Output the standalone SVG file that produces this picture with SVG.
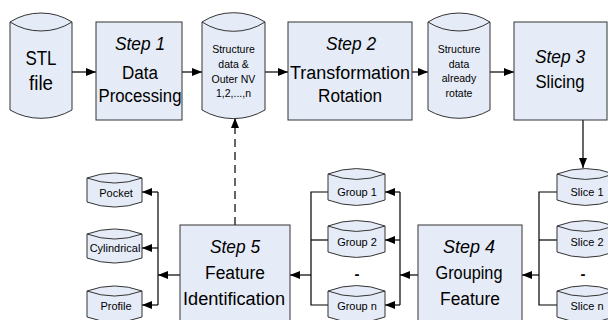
<svg xmlns="http://www.w3.org/2000/svg" width="608" height="320" viewBox="0 0 608 320">
<defs>
<style>
.shape{fill:#e6ecf7;stroke:#333;stroke-width:1}
.inner{fill:none;stroke:#333;stroke-width:1}
.c{stroke:#000;stroke-width:1.2;fill:none}
.a{marker-end:url(#ah)}
.dash{stroke-dasharray:8 5}
text{font-family:"Liberation Sans",Arial,sans-serif;fill:#000;text-anchor:middle}
.big{font-size:18px}
.it{font-style:italic}
.sm{font-size:10.5px}
.lb{font-size:11px}
</style>
<marker id="ah" viewBox="0 0 10 8" refX="10" refY="4" markerWidth="10" markerHeight="8" markerUnits="userSpaceOnUse" orient="auto">
<path d="M0,0 L10,4 L0,8 Z" fill="#000"/>
</marker>
</defs>

<g id="connectors">
<line class="c a" x1="72" y1="72" x2="96" y2="72"/>
<line class="c a" x1="182" y1="72" x2="202" y2="72"/>
<line class="c a" x1="265" y1="72" x2="288" y2="72"/>
<line class="c a" x1="412" y1="72" x2="428" y2="72"/>
<line class="c a" x1="490" y1="72" x2="514" y2="72"/>
<line class="c a" x1="583" y1="120" x2="583" y2="168"/>
<polyline class="c" points="557,192 539,192 539,305 557,305"/>
<line class="c" x1="539" y1="240" x2="557" y2="240"/>
<line class="c a" x1="539" y1="275" x2="522" y2="275"/>
<line class="c" x1="400" y1="192" x2="400" y2="305"/>
<line class="c a" x1="400" y1="192" x2="385" y2="192"/>
<line class="c a" x1="400" y1="240" x2="385" y2="240"/>
<line class="c a" x1="400" y1="305" x2="385" y2="305"/>
<line class="c a" x1="418" y1="275" x2="400" y2="275"/>
<polyline class="c" points="328,192 311,192 311,305 328,305"/>
<line class="c" x1="311" y1="240" x2="328" y2="240"/>
<line class="c a" x1="311" y1="275" x2="290" y2="275"/>
<line class="c" x1="158" y1="192" x2="158" y2="305"/>
<line class="c a" x1="158" y1="192" x2="142" y2="192"/>
<line class="c a" x1="158" y1="248" x2="142" y2="248"/>
<line class="c a" x1="158" y1="305" x2="142" y2="305"/>
<line class="c a" x1="180" y1="275" x2="158" y2="275"/>
<line class="c a dash" x1="235" y1="225" x2="235" y2="118"/>
</g>

<g id="stl">
<path class="shape" d="M10,22 A58,58 0 0 1 72,22 L72,110 A62,62 0 0 1 10,110 Z"/>
<path class="inner" d="M10,22 A58,58 0 0 0 72,22"/>
<text x="41" y="65" style="font-size:20px" textLength="31" lengthAdjust="spacingAndGlyphs">STL</text>
<text x="41" y="90" style="font-size:20px" textLength="24" lengthAdjust="spacingAndGlyphs">file</text>
</g>

<g id="step1">
<rect class="shape" x="96" y="22" width="86" height="98"/>
<text class="big it" x="140" y="50" textLength="50" lengthAdjust="spacingAndGlyphs">Step 1</text>
<text class="big" x="140" y="79" textLength="36" lengthAdjust="spacingAndGlyphs">Data</text>
<text class="big" x="140" y="102" textLength="83" lengthAdjust="spacingAndGlyphs">Processing</text>
</g>

<g id="structure">
<path class="shape" d="M202,22 A58,58 0 0 1 265,22 L265,110 A62,62 0 0 1 202,110 Z"/>
<path class="inner" d="M202,22 A58,58 0 0 0 265,22"/>
<text class="sm" x="233.5" y="53">Structure</text>
<text class="sm" x="233.5" y="68">data &amp;</text>
<text class="sm" x="233.5" y="83">Outer NV</text>
<text class="sm" x="233.5" y="97">1,2,...,n</text>
</g>

<g id="step2">
<rect class="shape" x="288" y="22" width="124" height="98"/>
<text class="big it" x="351" y="50" textLength="50" lengthAdjust="spacingAndGlyphs">Step 2</text>
<text class="big" x="350" y="79" textLength="120" lengthAdjust="spacingAndGlyphs">Transformation</text>
<text class="big" x="350" y="102" textLength="64" lengthAdjust="spacingAndGlyphs">Rotation</text>
</g>

<g id="rotated">
<path class="shape" d="M428,22 A58,58 0 0 1 490,22 L490,110 A62,62 0 0 1 428,110 Z"/>
<path class="inner" d="M428,22 A58,58 0 0 0 490,22"/>
<text class="sm" x="459" y="53">Structure</text>
<text class="sm" x="459" y="68">data</text>
<text class="sm" x="459" y="82">already</text>
<text class="sm" x="459" y="97">rotate</text>
</g>

<g id="step3">
<rect class="shape" x="514" y="22" width="93" height="98"/>
<text class="big it" x="560" y="63" textLength="50" lengthAdjust="spacingAndGlyphs">Step 3</text>
<text class="big" x="560" y="88" textLength="49" lengthAdjust="spacingAndGlyphs">Slicing</text>
</g>

<g id="slice1">
<path class="shape" d="M557,174 A80,80 0 0 1 614,174 L614,200 A80,80 0 0 1 557,200 Z"/>
<path class="inner" d="M557,174 A80,80 0 0 0 614,174"/>
<text class="lb" x="587" y="196">Slice 1</text>
</g>
<g id="slice2">
<path class="shape" d="M557,226 A80,80 0 0 1 614,226 L614,252 A80,80 0 0 1 557,252 Z"/>
<path class="inner" d="M557,226 A80,80 0 0 0 614,226"/>
<text class="lb" x="587" y="246">Slice 2</text>
</g>
<text x="583" y="279" style="font-size:15px;font-weight:bold">-</text>
<g id="slicen">
<path class="shape" d="M557,291 A80,80 0 0 1 614,291 L614,317 A80,80 0 0 1 557,317 Z"/>
<path class="inner" d="M557,291 A80,80 0 0 0 614,291"/>
<text class="lb" x="587" y="310">Slice n</text>
</g>

<g id="step4">
<rect class="shape" x="418" y="225" width="104" height="98"/>
<text class="big it" x="469" y="253" textLength="52" lengthAdjust="spacingAndGlyphs">Step 4</text>
<text class="big" x="469" y="279" textLength="67" lengthAdjust="spacingAndGlyphs">Grouping</text>
<text class="big" x="470" y="305" textLength="60" lengthAdjust="spacingAndGlyphs">Feature</text>
</g>

<g id="group1">
<path class="shape" d="M328,174 A80,80 0 0 1 385,174 L385,200 A80,80 0 0 1 328,200 Z"/>
<path class="inner" d="M328,174 A80,80 0 0 0 385,174"/>
<text class="lb" x="357" y="196">Group 1</text>
</g>
<g id="group2">
<path class="shape" d="M328,226 A80,80 0 0 1 385,226 L385,252 A80,80 0 0 1 328,252 Z"/>
<path class="inner" d="M328,226 A80,80 0 0 0 385,226"/>
<text class="lb" x="357" y="246">Group 2</text>
</g>
<text x="357" y="279" style="font-size:15px;font-weight:bold">-</text>
<g id="groupn">
<path class="shape" d="M328,291 A80,80 0 0 1 385,291 L385,317 A80,80 0 0 1 328,317 Z"/>
<path class="inner" d="M328,291 A80,80 0 0 0 385,291"/>
<text class="lb" x="357" y="310">Group n</text>
</g>

<g id="step5">
<rect class="shape" x="180" y="225" width="110" height="98"/>
<text class="big it" x="235" y="253" textLength="50" lengthAdjust="spacingAndGlyphs">Step 5</text>
<text class="big" x="235" y="279" textLength="60" lengthAdjust="spacingAndGlyphs">Feature</text>
<text class="big" x="234" y="305" textLength="102" lengthAdjust="spacingAndGlyphs">Identification</text>
</g>

<g id="pocket">
<path class="shape" d="M87,178 A80,80 0 0 1 142,178 L142,202 A80,80 0 0 1 87,202 Z"/>
<path class="inner" d="M87,178 A80,80 0 0 0 142,178"/>
<text class="lb" x="116" y="197">Pocket</text>
</g>
<g id="cylindrical">
<path class="shape" d="M87,234 A80,80 0 0 1 142,234 L142,258 A80,80 0 0 1 87,258 Z"/>
<path class="inner" d="M87,234 A80,80 0 0 0 142,234"/>
<text class="lb" x="115" y="252">Cylindrical</text>
</g>
<g id="profile">
<path class="shape" d="M87,291 A80,80 0 0 1 142,291 L142,317 A80,80 0 0 1 87,317 Z"/>
<path class="inner" d="M87,291 A80,80 0 0 0 142,291"/>
<text class="lb" x="116" y="310">Profile</text>
</g>
</svg>
